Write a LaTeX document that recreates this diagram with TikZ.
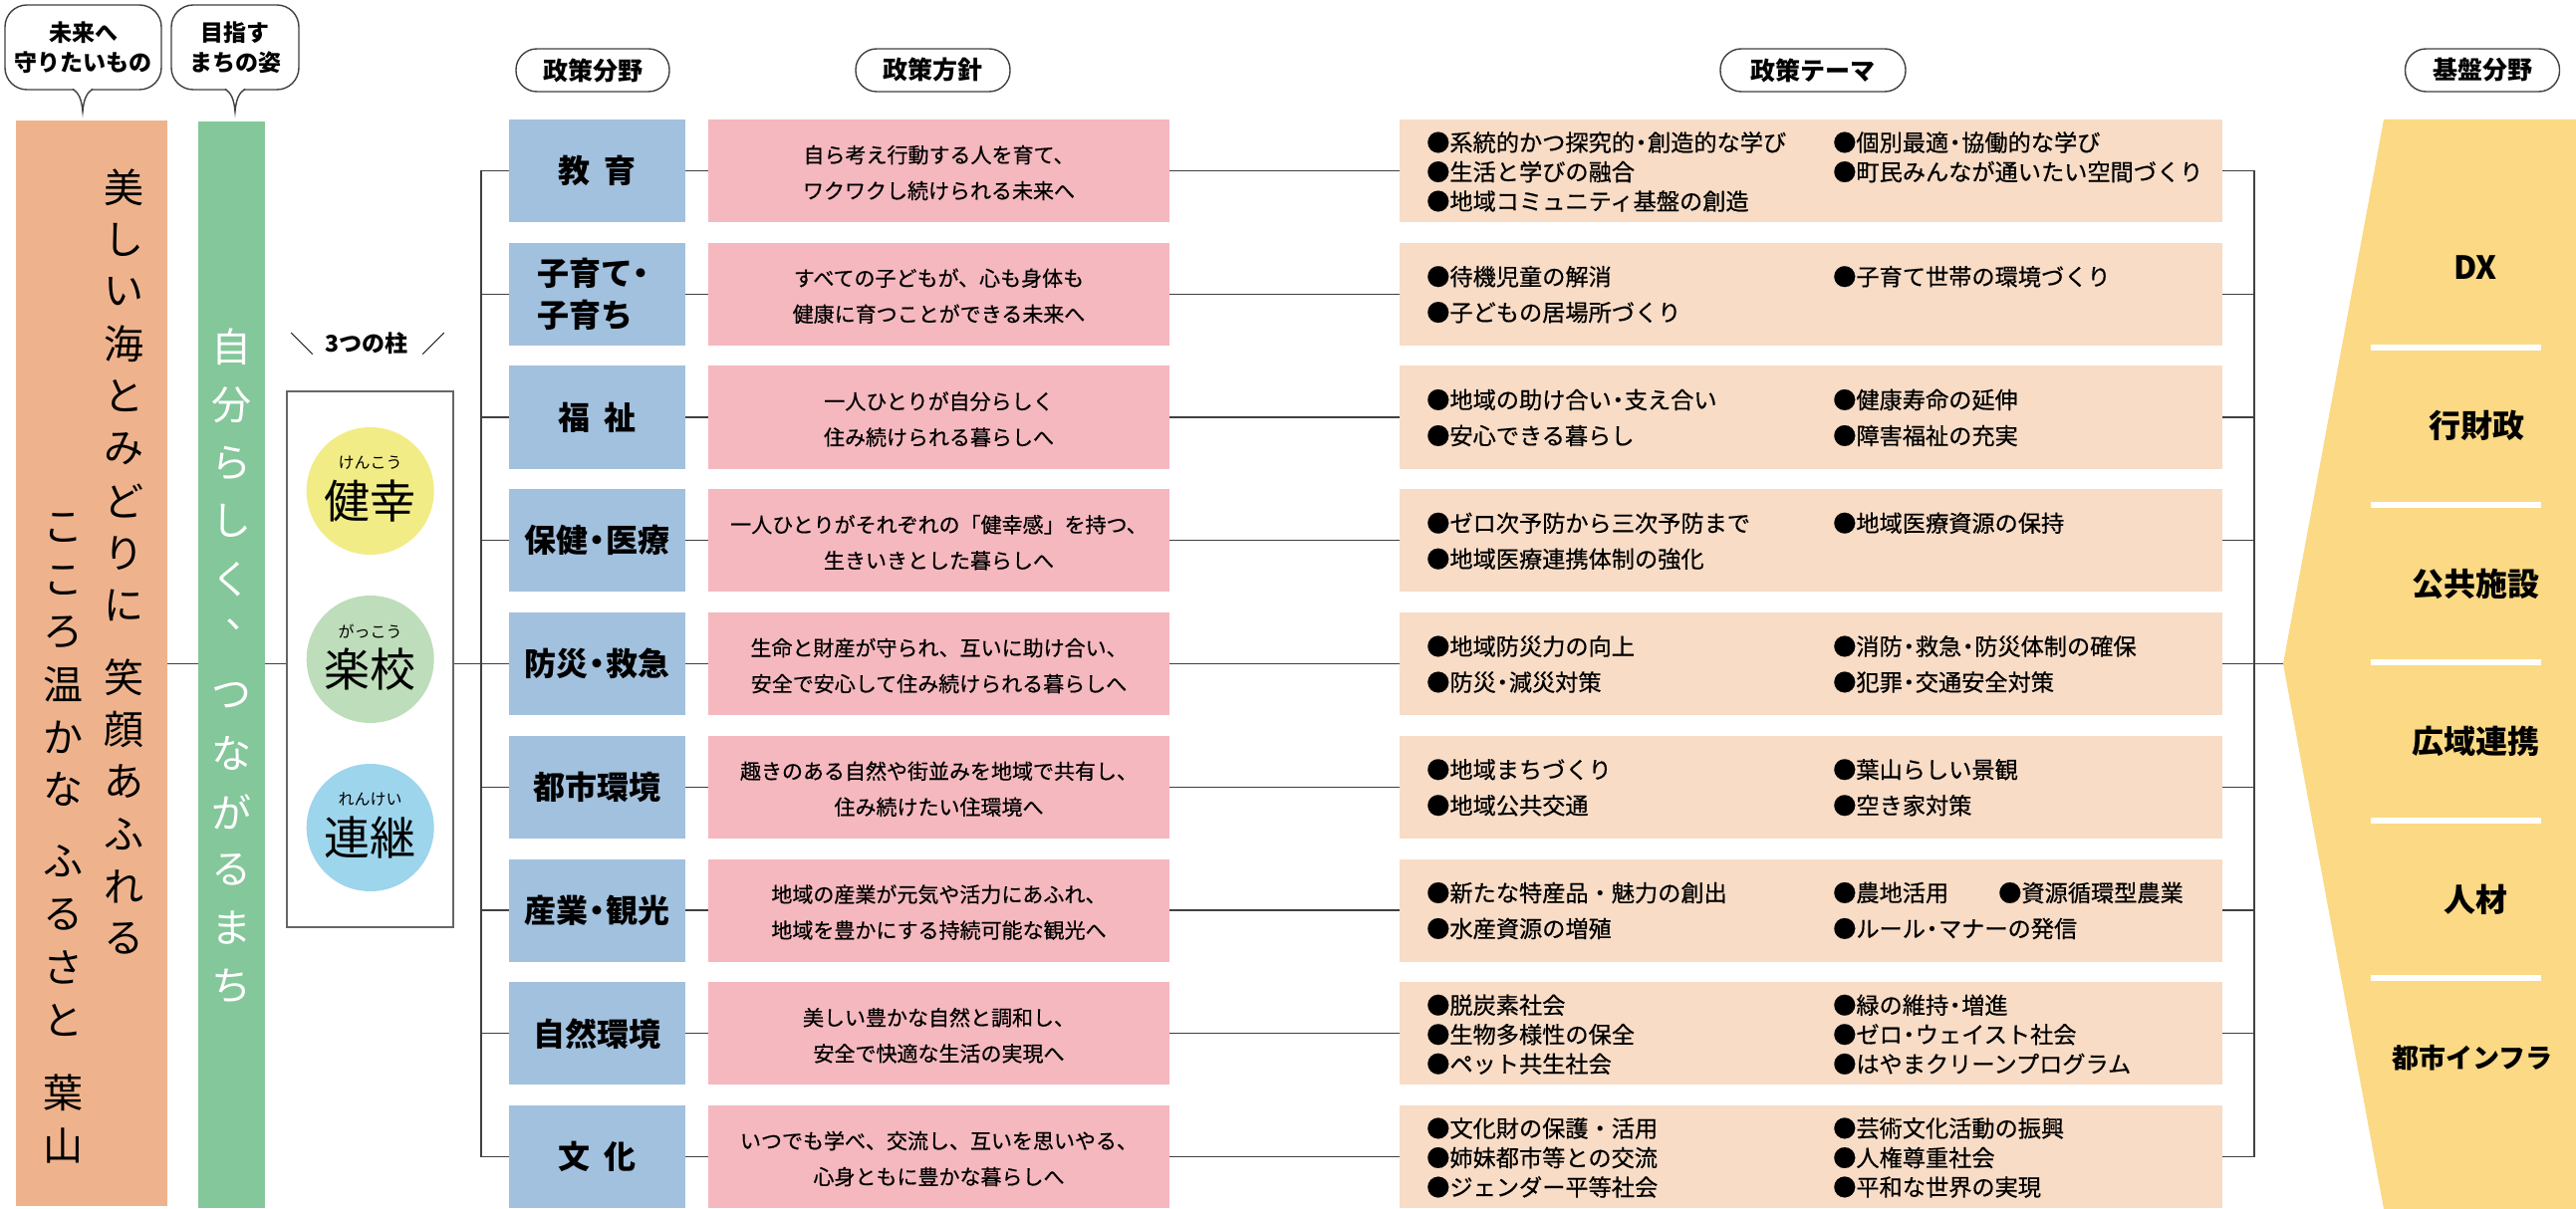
\documentclass[tikz,border=0pt]{standalone}
\usepackage{fontspec}
\setmainfont{Noto Sans CJK JP}
\newfontfamily\medfont[FakeBold=0.5]{Noto Sans CJK JP}
\definecolor{corange}{HTML}{EEB38D}
\definecolor{cgreen}{HTML}{84C79A}
\definecolor{cblue}{HTML}{A2C1DE}
\definecolor{cpink}{HTML}{F5B8BF}
\definecolor{cpeach}{HTML}{F8DCC6}
\definecolor{cyellow}{HTML}{FBD985}
\definecolor{ckenko}{HTML}{F1EC86}
\definecolor{cgakko}{HTML}{BEDDBA}
\definecolor{crenkei}{HTML}{9DD5EC}
\definecolor{lgray}{HTML}{404040}
\newcommand\kdot{\hspace{-0.22em}・\hspace{-0.22em}}
\newcommand\fsz[1]{\fontsize{#1pt}{#1pt}\selectfont}
\tikzset{
  conn/.style={draw=lgray, line width=1.4pt},
  callout/.style={draw=lgray, line width=1.4pt, fill=white, rounded corners=22pt, minimum height=85pt, inner sep=0, align=center, font=\fontsize{23pt}{30pt}\selectfont\bfseries},
  pill/.style={draw=lgray, line width=1.4pt, rounded corners=21pt, minimum height=43pt, inner sep=0, font=\fsz{25}\bfseries},
  bluebox/.style={fill=cblue, minimum width=177pt, minimum height=103pt, inner sep=0, align=left, font=\fontsize{32pt}{42pt}\selectfont\bfseries},
  pinkbox/.style={fill=cpink, minimum width=463pt, minimum height=103pt, inner sep=0},
  peachbox/.style={fill=cpeach, minimum width=826pt, minimum height=103pt, inner sep=0},
  pinktxt/.style={align=center, inner sep=0, font=\medfont\fontsize{21pt}{36pt}\selectfont},
  item/.style={anchor=west, inner sep=0, font=\medfont\fsz{23.2}},
  vch/.style={inner sep=0, font=\fsz{40}},
  wch/.style={inner sep=0, text=white, font=\fsz{40}},
  ylabel/.style={inner sep=0, font=\fsz{32}\bfseries},
  pillar/.style={circle, minimum size=128pt, inner sep=0},
  pmain/.style={inner sep=0, font=\fsz{46}},
  pruby/.style={inner sep=0, font=\fsz{16}},
  sep/.style={draw=white, line width=6pt}
}
\begin{document}
\begin{tikzpicture}[x=1pt,y=-1pt]
\useasboundingbox (0,0) rectangle (2586,1214);

% ---- callouts
\node[callout, minimum width=157pt] (c1) at (83.5,47.5) {未来へ\\守りたいもの};
\fill[white] (73,88.5) .. controls (79,93) and (82,100) .. (83,112) .. controls (84,100) and (87,93) .. (93,88.5) -- cycle;
\draw[conn] (73,89.3) .. controls (79,93) and (82,100) .. (83,112) .. controls (84,100) and (87,93) .. (93,89.3);
\node[callout, minimum width=128pt] (c2) at (236,47.5) {目指す\\まちの姿};
\fill[white] (226,88.5) .. controls (232,93) and (235,100) .. (236,112) .. controls (237,100) and (240,93) .. (246,88.5) -- cycle;
\draw[conn] (226,89.3) .. controls (232,93) and (235,100) .. (236,112) .. controls (237,100) and (240,93) .. (246,89.3);

% ---- left columns
\node[fill=corange, minimum width=152pt, minimum height=1090pt, inner sep=0] (mamoru) at (92,666) {};
\node[fill=cgreen, minimum width=67pt, minimum height=1091pt, inner sep=0] (mezasu) at (232.5,667.5) {};

\foreach \c/\y [count=\i] in {美/188,し/240.5,い/293,海/345.5,と/398,み/450.5,ど/503,り/555.5,に/608,笑/680,顔/732.5,あ/785,ふ/837.5,れ/890,る/942.5}
  \node[vch] (ra\i) at (124,\y) {\c};
\foreach \c/\y [count=\i] in {こ/530,こ/582.5,ろ/635,温/687.5,か/740,な/792.5,ふ/865,る/918,さ/971,と/1024,葉/1097,山/1150}
  \node[vch] (la\i) at (63,\y) {\c};
\foreach \c/\y [count=\i] in {自/348,分/406.4,ら/464.8,し/523.2,く/581.6,つ/698.4,な/756.8,が/815.2,る/873.6,ま/932,ち/990.4}
  \node[wch] (gr\i) at (232,\y) {\c};
\node[wch] (grc) at (246,627) {、};

% ---- three pillars
\node[inner sep=0, font=\fsz{23}\bfseries] (hlabel) at (368,345) {3つの柱};
\node[inner sep=0, font=\fsz{24}] (hl) at (303,345) {＼};
\node[inner sep=0, font=\fsz{24}] (hr) at (435,345) {／};
\node[draw=lgray!80, line width=1.4pt, minimum width=167pt, minimum height=538pt, inner sep=0] (hashira) at (371.5,662) {};
\node[pillar, fill=ckenko] (kenko) at (371.7,493) {};
\node[pmain] (kenkoT) at (371.7,503) {健幸};
\node[pruby] (kenkoR) at (371.7,465) {けんこう};
\node[pillar, fill=cgakko] (gakko) at (371.7,662) {};
\node[pmain] (gakkoT) at (371.7,672) {楽校};
\node[pruby] (gakkoR) at (371.7,634) {がっこう};
\node[pillar, fill=crenkei] (renkei) at (371.7,831) {};
\node[pmain] (renkeiT) at (371.7,841) {連継};
\node[pruby] (renkeiR) at (371.7,803) {れんけい};

% ---- header pills
\node[pill, minimum width=154pt] (h1) at (595,70.5) {政策分野};
\node[pill, minimum width=155pt] (h2) at (936.5,70.5) {政策方針};
\node[pill, minimum width=186pt] (h3) at (1820,70.5) {政策テーマ};
\node[pill, minimum width=155pt] (h4) at (2492,70.5) {基盤分野};

% ---- rows: blue
\node[bluebox] (b1) at (599.5,171.5) {教\hspace{0.45em}育};
\node[bluebox] (b2) at (599.5,295.25) {子育て\kdot\\子育ち};
\node[bluebox] (b3) at (599.5,419) {福\hspace{0.45em}祉};
\node[bluebox] (b4) at (599.5,542.75) {保健\kdot 医療};
\node[bluebox] (b5) at (599.5,666.5) {防災\kdot 救急};
\node[bluebox] (b6) at (599.5,790.25) {都市環境};
\node[bluebox] (b7) at (599.5,914) {産業\kdot 観光};
\node[bluebox] (b8) at (599.5,1037.75) {自然環境};
\node[bluebox] (b9) at (599.5,1161.5) {文\hspace{0.45em}化};

% ---- rows: pink and peach boxes
\foreach \y [count=\i] in {171.5,295.25,419,542.75,666.5,790.25,914,1037.75,1161.5}{
  \node[pinkbox] (k\i) at (942.5,\y) {};
  \node[peachbox] (p\i) at (1818,\y) {};
}
\node[pinktxt] (kt1) at (942.5,173.5) {自ら考え行動する人を育て、\\ワクワクし続けられる未来へ};
\node[pinktxt] (kt2) at (942.5,297.25) {すべての子どもが、心も身体も\\健康に育つことができる未来へ};
\node[pinktxt] (kt3) at (942.5,421) {一人ひとりが自分らしく\\住み続けられる暮らしへ};
\node[pinktxt] (kt4) at (942.5,544.75) {一人ひとりがそれぞれの「健幸感」を持つ、\\生きいきとした暮らしへ};
\node[pinktxt] (kt5) at (942.5,668.5) {生命と財産が守られ、互いに助け合い、\\安全で安心して住み続けられる暮らしへ};
\node[pinktxt] (kt6) at (942.5,792.25) {趣きのある自然や街並みを地域で共有し、\\住み続けたい住環境へ};
\node[pinktxt] (kt7) at (942.5,916) {地域の産業が元気や活力にあふれ、\\地域を豊かにする持続可能な観光へ};
\node[pinktxt] (kt8) at (942.5,1039.75) {美しい豊かな自然と調和し、\\安全で快適な生活の実現へ};
\node[pinktxt] (kt9) at (942.5,1163.5) {いつでも学べ、交流し、互いを思いやる、\\心身ともに豊かな暮らしへ};

% ---- peach items
\node[item] (t1a) at (1432,143) {●系統的かつ探究的\kdot 創造的な学び};
\node[item] (t1b) at (1432,172.5) {●生活と学びの融合};
\node[item] (t1c) at (1432,202) {●地域コミュニティ基盤の創造};
\node[item] (t1d) at (1840,143) {●個別最適\kdot 協働的な学び};
\node[item] (t1e) at (1840,172.5) {●町民みんなが通いたい空間づくり};
\node[item] (t2a) at (1432,277.75) {●待機児童の解消};
\node[item] (t2b) at (1432,313.75) {●子どもの居場所づくり};
\node[item] (t2c) at (1840,277.75) {●子育て世帯の環境づくり};
\node[item] (t3a) at (1432,401.5) {●地域の助け合い\kdot 支え合い};
\node[item] (t3b) at (1432,437.5) {●安心できる暮らし};
\node[item] (t3c) at (1840,401.5) {●健康寿命の延伸};
\node[item] (t3d) at (1840,437.5) {●障害福祉の充実};
\node[item] (t4a) at (1432,525.25) {●ゼロ次予防から三次予防まで};
\node[item] (t4b) at (1432,561.25) {●地域医療連携体制の強化};
\node[item] (t4c) at (1840,525.25) {●地域医療資源の保持};
\node[item] (t5a) at (1432,649) {●地域防災力の向上};
\node[item] (t5b) at (1432,685) {●防災\kdot 減災対策};
\node[item] (t5c) at (1840,649) {●消防\kdot 救急\kdot 防災体制の確保};
\node[item] (t5d) at (1840,685) {●犯罪\kdot 交通安全対策};
\node[item] (t6a) at (1432,772.75) {●地域まちづくり};
\node[item] (t6b) at (1432,808.75) {●地域公共交通};
\node[item] (t6c) at (1840,772.75) {●葉山らしい景観};
\node[item] (t6d) at (1840,808.75) {●空き家対策};
\node[item] (t7a) at (1432,896.5) {●新たな特産品・魅力の創出};
\node[item] (t7b) at (1432,932.5) {●水産資源の増殖};
\node[item] (t7c) at (1840,896.5) {●農地活用};
\node[item] (t7d) at (2006,896.5) {●資源循環型農業};
\node[item] (t7e) at (1840,932.5) {●ルール\kdot マナーの発信};
\node[item] (t8a) at (1432,1009.25) {●脱炭素社会};
\node[item] (t8b) at (1432,1038.75) {●生物多様性の保全};
\node[item] (t8c) at (1432,1068.25) {●ペット共生社会};
\node[item] (t8d) at (1840,1009.25) {●緑の維持\kdot 増進};
\node[item] (t8e) at (1840,1038.75) {●ゼロ\kdot ウェイスト社会};
\node[item] (t8f) at (1840,1068.25) {●はやまクリーンプログラム};
\node[item] (t9a) at (1432,1133) {●文化財の保護・活用};
\node[item] (t9b) at (1432,1162.5) {●姉妹都市等との交流};
\node[item] (t9c) at (1432,1192) {●ジェンダー平等社会};
\node[item] (t9d) at (1840,1133) {●芸術文化活動の振興};
\node[item] (t9e) at (1840,1162.5) {●人権尊重社会};
\node[item] (t9f) at (1840,1192) {●平和な世界の実現};

% ---- foundation (yellow)
\coordinate (ytip) at (2292,666.5);
\fill[cyellow] (2393,120) -- (2586,120) -- (2586,1214) -- (2393,1214) -- (ytip) -- cycle;
\foreach \y in {349,507,665,824,982} \draw[sep] (2380,\y) -- (2551,\y);
\node[ylabel] (f1) at (2485,269) {DX};
\node[ylabel] (f2) at (2486,427) {行財政};
\node[ylabel] (f3) at (2485,586) {公共施設};
\node[ylabel] (f4) at (2485,744) {広域連携};
\node[ylabel] (f5) at (2485,903) {人材};
\node[ylabel, font=\fsz{27}\bfseries] (f6) at (2482,1062) {都市インフラ};

% ---- connectors
\coordinate (lbTop) at (483,171.5);
\coordinate (lbBot) at (483,1161.5);
\coordinate (rbTop) at (2263,171.5);
\coordinate (rbBot) at (2263,1161.5);
\draw[conn] (lbTop) -- (lbBot);
\draw[conn] (rbTop) -- (rbBot);
\foreach \i in {1,...,9}{
  \draw[conn] (b\i.west -| lbTop) -- (b\i.west);
  \draw[conn] (b\i.east) -- (k\i.west);
  \draw[conn] (k\i.east) -- (p\i.west);
  \draw[conn] (p\i.east) -- (p\i.east -| rbTop);
}
\draw[conn] (p5.east -| rbTop) -- (ytip);
\draw[conn] (mamoru.east |- b5.west) -- (mezasu.west |- b5.west);
\draw[conn] (mezasu.east |- b5.west) -- (hashira.west |- b5.west);
\draw[conn] (hashira.east |- b5.west) -- (b5.west -| lbTop);
\end{tikzpicture}
\end{document}
